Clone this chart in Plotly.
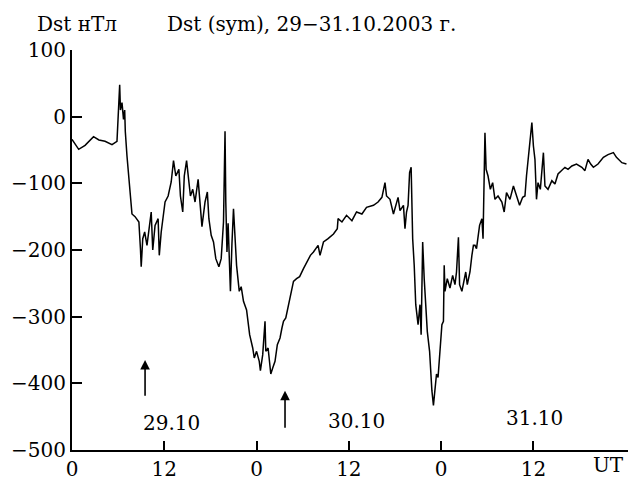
import plotly.graph_objects as go

hours = [0, 0.87, 1.7, 2.8, 3.5, 4.3, 5.2, 5.85, 6.2, 6.3, 6.5, 6.7, 6.85, 6.93, 7.15, 7.37, 7.6, 7.8,
         8.2, 8.7, 8.9, 9.0, 9.2, 9.45, 9.75, 10.06, 10.3, 10.5, 10.8, 11.2, 11.35, 11.6, 11.9, 12.1,
         12.5, 12.9, 13.2, 13.5, 13.9, 14.1, 14.4, 14.6, 14.9, 15.2, 15.4, 15.7, 16.0, 16.4, 16.7, 16.9,
         17.3, 17.6, 17.8, 18.1, 18.4, 18.7, 19.1, 19.4, 19.7, 19.9, 20.0, 20.15, 20.3, 20.6, 20.8, 21.0,
         21.4, 21.75, 22.0, 22.3, 22.7, 23.1, 23.5, 23.7, 24.0, 24.35, 24.5, 24.8, 25.1, 25.2, 25.5,
         25.85, 26.1, 26.4, 26.7, 27.05, 27.3, 27.5, 27.8, 28.1, 28.4, 28.8, 29.2, 29.6, 30.1, 30.5,
         31.0, 31.4, 32.0, 32.25, 32.7, 33.3, 34.0, 34.5, 34.6, 35.1, 35.7, 36.4, 37.0, 37.7, 38.3,
         39.2, 39.8, 40.3, 40.7, 40.9, 41.35, 41.8, 42.2, 42.4, 42.65, 43.1, 43.3, 43.5, 43.7, 43.9,
         44.1, 44.3, 44.5, 44.7, 45.0, 45.25, 45.4, 45.6, 45.8, 46.0, 46.2, 46.5, 46.6, 46.8, 47.0,
         47.2, 47.4, 47.6, 47.85, 48.1, 48.3, 48.4, 48.5, 48.8, 49.15, 49.5, 49.8, 50.0, 50.25, 50.4,
         50.7, 51.0, 51.2, 51.4, 51.75, 52.0, 52.2, 52.4, 52.6, 53.0, 53.3, 53.45, 53.7, 53.85, 54.1,
         54.4, 54.7, 55.0, 55.4, 55.9, 56.2, 56.5, 56.95, 57.4, 57.8, 58.2, 58.6, 58.9, 59.1, 59.5,
         59.8, 60.0, 60.2, 60.4, 60.6, 60.9, 61.3, 61.5, 61.9, 62.4, 62.8, 63.2, 63.7, 64.1, 64.5,
         65.0, 65.6, 66.3, 66.7, 67.1, 67.45, 67.8, 68.4, 69.1, 69.7, 70.4, 70.8, 71.5, 72.1]

dst = [-34, -49, -43, -30, -35, -37, -42, -37, 48, 10, 21, -4, 10, -22, -59, -89, -124, -146,
       -150, -158, -198, -225, -183, -173, -193, -163, -143, -200, -163, -153, -208, -173, -148, -128,
       -119, -98, -66, -89, -79, -119, -143, -89, -66, -94, -119, -109, -128, -94, -133, -165,
       -128, -113, -153, -178, -188, -213, -225, -213, -158, -22, -128, -203, -160, -262, -190, -138,
       -223, -262, -255, -277, -290, -327, -347, -362, -352, -367, -381, -357, -307, -352, -347,
       -386, -377, -367, -342, -332, -317, -307, -302, -287, -272, -247, -243, -240, -228, -218,
       -208, -203, -193, -208, -188, -183, -176, -168, -153, -158, -148, -156, -143, -146, -136,
       -133, -128, -121, -99, -119, -124, -146, -128, -121, -141, -133, -168, -143, -133, -84,
       -76, -183, -223, -282, -312, -282, -327, -188, -243, -292, -322, -352, -381, -411, -433,
       -406, -386, -391, -352, -312, -307, -223, -262, -243, -257, -238, -252, -233, -181, -252,
       -262, -243, -233, -252, -233, -208, -193, -193, -198, -163, -153, -183, -24, -79, -89,
       -109, -99, -124, -119, -128, -143, -114, -124, -104, -119, -133, -121, -119, -89, -39,
       -9, -44, -64, -124, -99, -109, -54, -104, -109, -96, -101, -86, -81, -76, -79,
       -74, -71, -76, -81, -64, -71, -76, -71, -61, -57, -54, -61, -69, -71]

x_tick_vals = [0, 12, 24, 36, 48, 60]
x_tick_text = ["0", "12", "0", "12", "0", "12"]
y_tick_vals = [-500, -400, -300, -200, -100, 0, 100]
y_tick_text = ["\u2212500", "\u2212400", "\u2212300", "\u2212200", "\u2212100", "0", "100"]

day_labels = ["29.10", "30.10", "31.10"]
day_label_x = [12.9, 37.0, 60.2]
day_label_y = [-460, -457, -452]

arrow_x = [9.5, 27.7]
arrow_head = [-365, -411]
arrow_tail = [-421, -469]

FONT = "DejaVu Serif"
FS = 20

fig = go.Figure()
fig.add_trace(go.Scatter(x=hours, y=dst, mode="lines",
                         line=dict(color="black", width=1.5), showlegend=False))

for xa, yh, yt in zip(arrow_x, arrow_head, arrow_tail):
    fig.add_annotation(x=xa, y=yh, ax=xa, ay=yt, xref="x", yref="y", axref="x", ayref="y",
                       text="", showarrow=True, arrowhead=2, arrowsize=1.2, arrowwidth=1.6,
                       arrowcolor="black")

for t, xv, yv in zip(day_labels, day_label_x, day_label_y):
    fig.add_annotation(x=xv, y=yv, xref="x", yref="y", text=t, showarrow=False,
                       font=dict(family=FONT, size=FS, color="black"))

fig.add_annotation(x=0.0, y=1.0, xref="paper", yref="paper", xanchor="left", yanchor="bottom",
                   text="Dst нТл", showarrow=False, yshift=12, xshift=35 - 72,
                   font=dict(family=FONT, size=FS, color="black"))
fig.add_annotation(x=0.0, y=1.0, xref="paper", yref="paper", xanchor="left", yanchor="bottom",
                   text="Dst (sym), 29\u221231.10.2003 г.", showarrow=False, yshift=12,
                   xshift=165 - 72,
                   font=dict(family=FONT, size=FS, color="black"))
fig.add_annotation(x=1.0, y=0.0, xref="paper", yref="paper", xanchor="right", yanchor="top",
                   text="UT", showarrow=False, xshift=-2, yshift=-1,
                   font=dict(family=FONT, size=FS, color="black"))

fig.update_layout(
    width=628, height=481,
    margin=dict(l=72, r=0, t=50, b=28),
    paper_bgcolor="white", plot_bgcolor="white",
    font=dict(family=FONT, size=FS, color="black"),
    xaxis=dict(range=[0, 72.3], tickvals=x_tick_vals, ticktext=x_tick_text,
               ticks="inside", ticklen=9, tickwidth=2, tickcolor="black",
               showline=True, linecolor="black", linewidth=2, showgrid=False, zeroline=False,
               tickfont=dict(family=FONT, size=FS, color="black")),
    yaxis=dict(range=[-500, 100], tickvals=y_tick_vals, ticktext=y_tick_text,
               ticks="inside", ticklen=10, tickwidth=2, tickcolor="black",
               showline=True, linecolor="black", linewidth=2, showgrid=False, zeroline=False,
               tickfont=dict(family=FONT, size=FS, color="black")),
)

fig.write_html("out.html")
